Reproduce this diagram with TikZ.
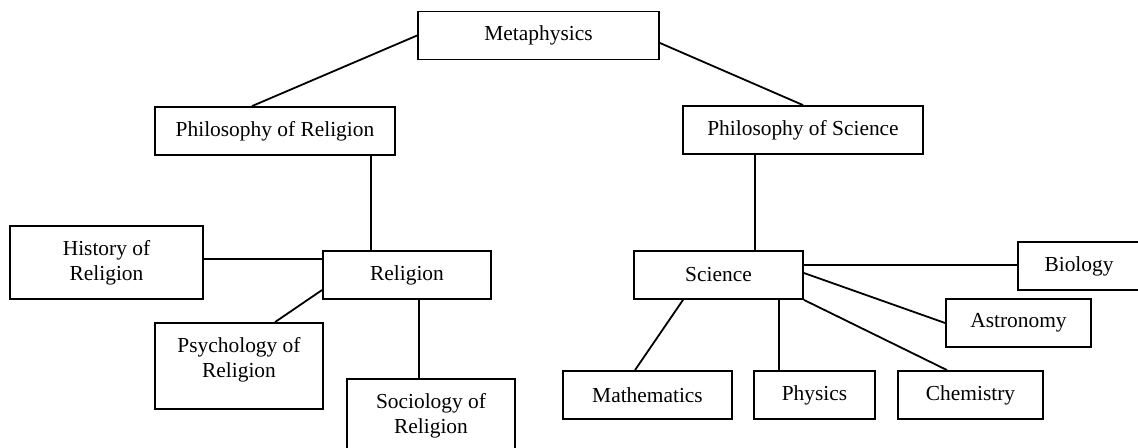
\documentclass[tikz,border=0pt]{standalone}
\usepackage{fontspec}
\setmainfont{Liberation Serif}
\begin{document}
\begin{tikzpicture}[
  every node/.style={font=\fontsize{10.7}{12.4}\selectfont},
  box/.style={draw, line width=0.9pt, inner sep=0pt, align=center, minimum height=24pt},
  tallbox/.style={box, minimum height=43pt},
  txt/.style={align=center},
  link/.style={line width=0.9pt}]
  \def\x{0.5pt}
  \def\y{-0.5pt}
  \useasboundingbox (0,0) rectangle (1138*\x, 448*\y);
  % top levels
  \node[box, minimum width=120.5pt] (Meta) at (538.5*\x, 35.5*\y) {Metaphysics};
  \node[box, minimum width=120pt] (PRel) at (275*\x, 131*\y) {Philosophy of Religion};
  \node[box, minimum width=120pt] (PSci) at (803*\x, 130*\y) {Philosophy of Science};
  % religion side
  \node[box, minimum width=84pt] (Rel) at (407*\x, 275*\y) {Religion};
  \node[box, minimum width=96.5pt, minimum height=36.5pt] (Hist) at (106.5*\x, 262.5*\y) {History of\\Religion};
  \node[tallbox, minimum width=84pt, label={[txt, yshift=3pt]center:Psychology of\\Religion}] (Psy) at (239*\x, 366*\y) {};
  \node[tallbox, minimum width=84pt, label={[txt, yshift=3pt]center:Sociology of\\Religion}] (Soc) at (431*\x, 422*\y) {};
  % science side
  \node[box, minimum width=84.5pt] (Sci) at (718.5*\x, 275*\y) {Science};
  \node[box, minimum width=80pt, label={[xshift=-9.5pt]center:Biology}] (Bio) at (1098*\x, 266*\y) {};
  \node[box, minimum width=72.5pt] (Ast) at (1018.5*\x, 323*\y) {Astronomy};
  \node[box, minimum width=84.5pt] (Mat) at (647.5*\x, 395*\y) {Mathematics};
  \node[box, minimum width=60.5pt] (Phy) at (814.5*\x, 395*\y) {Physics};
  \node[box, minimum width=72.5pt] (Che) at (970.5*\x, 395*\y) {Chemistry};
  % connectors
  \draw[link] (Meta.west) -- ([xshift=-11.5pt]PRel.north);
  \draw[link] ([yshift=-3.75pt]Meta.east) -- (PSci.north);
  \draw[link] ([xshift=-18pt]Rel.north) -- ([xshift=-18pt]Rel.north |- PRel.south);
  \draw[link] ([yshift=8pt]Rel.west) -- ([yshift=8pt]Rel.west -| Hist.east);
  \draw[link] ([yshift=-7.5pt]Rel.west) -- ([xshift=18pt]Psy.north);
  \draw[link] ([xshift=6pt]Rel.south) -- ([xshift=6pt]Rel.south |- Soc.north);
  \draw[link] ([xshift=18.25pt]Sci.north) -- ([xshift=18.25pt]Sci.north |- PSci.south);
  \draw[link] ([yshift=5pt]Sci.east) -- ([yshift=5pt]Sci.east -| Bio.west);
  \draw[link] ([yshift=1pt]Sci.east) -- (Ast.west);
  \draw[link] ([xshift=-17.75pt]Sci.south) -- ([xshift=-6.25pt]Mat.north);
  \draw[link] ([xshift=30.25pt]Sci.south) -- ([xshift=30.25pt]Sci.south |- Phy.north);
  \draw[link] (Sci.south east) -- ([xshift=-11.75pt]Che.north);
\end{tikzpicture}
\end{document}
